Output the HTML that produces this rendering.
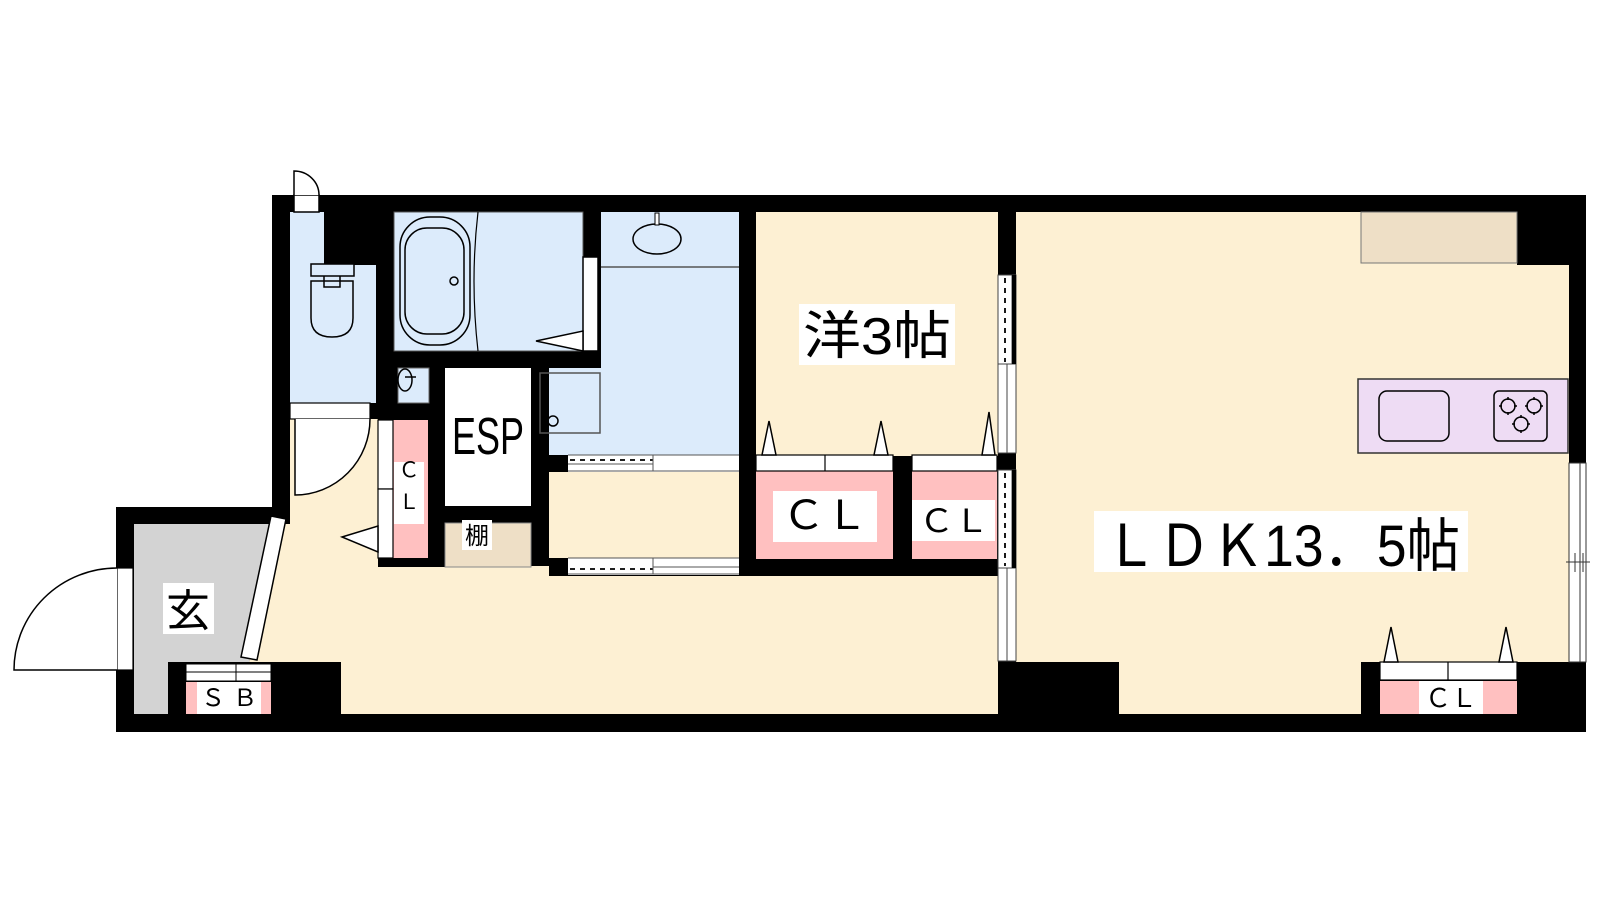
<!DOCTYPE html>
<html><head><meta charset="utf-8"><style>
html,body{margin:0;padding:0;background:#fff;}
svg{display:block;}
text{font-family:"Liberation Sans","Noto Sans CJK JP",sans-serif;fill:#000;}
</style></head><body>
<svg width="1600" height="900" viewBox="0 0 1600 900" xmlns="http://www.w3.org/2000/svg">
<rect width="1600" height="900" fill="#fff"/>
<polygon points="272,195 1586,195 1586,732 116,732 116,507 272,507" fill="#000"/>

<g fill="#dcebfb">
<rect x="290" y="212" width="34" height="54"/>
<rect x="290" y="265" width="86" height="138"/>
<rect x="398" y="368" width="31" height="35"/>
<rect x="394" y="212" width="189" height="139"/>
<rect x="601" y="212" width="138" height="243"/>
<rect x="549" y="368" width="190" height="87"/>
</g>
<g fill="#fdf0d3">
<rect x="290" y="419" width="88" height="243"/>
<rect x="290" y="576" width="708" height="86"/>
<rect x="341" y="576" width="657" height="138"/>
<rect x="376" y="567" width="70" height="10"/>
<rect x="445" y="566" width="104" height="11"/>
<polygon points="280,524 290,524 290,662 249,662"/>
<rect x="549" y="472" width="190" height="86"/>
<rect x="756" y="212" width="242" height="244"/>
<rect x="1016" y="212" width="501" height="450"/>
<rect x="1517" y="265" width="52" height="397"/>
<rect x="1119" y="662" width="242" height="52"/>
</g>
<polygon points="134,524 280,524 249,662 168,662 168,714 134,714" fill="#d3d3d3"/>
<rect x="445" y="368" width="86" height="138" fill="#fff"/>
<rect x="445" y="523" width="86" height="44" fill="#eedfc6" stroke="#888" stroke-width="1"/>
<rect x="1361" y="212" width="156" height="51" fill="#eedfc6" stroke="#777" stroke-width="1"/>

<rect x="294" y="195" width="25" height="17" fill="#fff" stroke="#000" stroke-width="1.5"/>
<path d="M294,195 V171 A25,24 0 0 1 319,195" fill="#fff" stroke="#000" stroke-width="1.5"/>
<rect x="311" y="264" width="43" height="12" fill="#dcebfb" stroke="#000" stroke-width="1.5"/>
<path d="M311,281 H353 V318 Q353,337 332,337 Q311,337 311,318 Z" fill="#dcebfb" stroke="#000" stroke-width="1.5"/>
<path d="M324,276 V287 H340 V276" fill="none" stroke="#000" stroke-width="1.5"/>
<rect x="394" y="212" width="189" height="139" fill="none" stroke="#555" stroke-width="1"/>
<rect x="400" y="217" width="70" height="128" rx="30" fill="none" stroke="#000" stroke-width="1.5"/>
<rect x="405" y="228" width="59" height="106" rx="22" fill="none" stroke="#000" stroke-width="1.5"/>
<circle cx="454" cy="281" r="4" fill="none" stroke="#000" stroke-width="1.5"/>
<path d="M478,212 Q470,281 478,351" fill="none" stroke="#000" stroke-width="1.2"/>
<rect x="583" y="257" width="15" height="94" fill="#fff" stroke="#000" stroke-width="1.5"/>
<polygon points="536,341 583,331 583,351" fill="#fff" stroke="#000" stroke-width="1.5"/>
<line x1="601" y1="267" x2="739" y2="267" stroke="#555" stroke-width="1.5"/>
<ellipse cx="657" cy="239" rx="24" ry="15" fill="none" stroke="#000" stroke-width="1.5"/>
<rect x="655" y="213" width="4" height="12" fill="#fff" stroke="#000" stroke-width="1"/>
<rect x="540" y="373" width="60" height="60" fill="none" stroke="#555" stroke-width="1.5"/>
<circle cx="553" cy="421" r="5" fill="none" stroke="#000" stroke-width="1.5"/>
<rect x="398" y="368" width="31" height="35" fill="none" stroke="#666" stroke-width="1"/>
<ellipse cx="405" cy="380" rx="7" ry="11" fill="none" stroke="#000" stroke-width="1.5"/>
<line x1="405" y1="377" x2="416" y2="377" stroke="#000" stroke-width="1.5"/>
<rect x="290" y="403" width="80" height="16" fill="#fff" stroke="#000" stroke-width="1.2"/>
<path d="M295,419 V495 A75,76 0 0 0 370,419" fill="#fff" stroke="#000" stroke-width="1.5"/>
<rect x="393" y="420" width="35" height="138" fill="#ffc0c0"/>
<rect x="378" y="420" width="15" height="69" fill="#fff" stroke="#000" stroke-width="1.2"/>
<rect x="378" y="489" width="15" height="69" fill="#fff" stroke="#000" stroke-width="1.2"/>
<polygon points="342,537 378,526 378,552" fill="#fff" stroke="#000" stroke-width="1.5"/>
<rect x="394" y="462" width="30" height="62" fill="#fff"/>
<text x="409" y="477" font-size="21" text-anchor="middle">Ｃ</text>
<text x="409" y="509" font-size="21" text-anchor="middle">Ｌ</text>
<text x="452" y="454" font-size="52" textLength="72" lengthAdjust="spacingAndGlyphs">ESP</text>
<rect x="462" y="520" width="30" height="30" fill="#fff"/>
<text x="477" y="544" font-size="24" text-anchor="middle">棚</text>
<g>
<rect x="568" y="455" width="171" height="17" fill="#fff"/>
<line x1="568" y1="455" x2="739" y2="455" stroke="#555"/>
<line x1="568" y1="471" x2="739" y2="471" stroke="#555"/>
<line x1="568" y1="464" x2="653" y2="464" stroke="#555"/>
<line x1="570" y1="460" x2="653" y2="460" stroke="#000" stroke-width="1.8" stroke-dasharray="5,5"/>
<line x1="653" y1="455" x2="653" y2="471" stroke="#555"/>
<rect x="568" y="558" width="171" height="17" fill="#fff"/>
<line x1="568" y1="558" x2="739" y2="558" stroke="#555"/>
<line x1="568" y1="574" x2="739" y2="574" stroke="#555"/>
<line x1="653" y1="567" x2="739" y2="567" stroke="#555"/>
<line x1="570" y1="569" x2="653" y2="569" stroke="#000" stroke-width="1.8" stroke-dasharray="5,5"/>
<line x1="653" y1="558" x2="653" y2="574" stroke="#555"/>
</g>
<rect x="117" y="568" width="16" height="102" fill="#fff" stroke="#000" stroke-width="1.2"/>
<path d="M117,568 A103,102 0 0 0 14,670 H117" fill="#fff" stroke="#000" stroke-width="1.5"/>
<polygon points="271,516 286,519 257,660 241,657" fill="#fff" stroke="#000" stroke-width="1.5"/>
<rect x="163" y="583" width="51" height="51" fill="#fff"/>
<text x="188" y="626" font-size="44" text-anchor="middle">玄</text>
<rect x="186" y="682" width="85" height="32" fill="#ffc0c0"/>
<rect x="186" y="664" width="85" height="17" fill="#fff" stroke="#000" stroke-width="1"/>
<line x1="186" y1="672" x2="271" y2="672" stroke="#000" stroke-width="1"/>
<line x1="236" y1="664" x2="236" y2="681" stroke="#000" stroke-width="1"/>
<rect x="197" y="682" width="64" height="32" fill="#fff"/>
<text x="229" y="706" font-size="24" text-anchor="middle" textLength="56" lengthAdjust="spacing">ＳＢ</text>

<rect x="799" y="304" width="156" height="61" fill="#fff"/>
<text x="877" y="354" font-size="52" text-anchor="middle" textLength="148" lengthAdjust="spacingAndGlyphs">洋3帖</text>
<rect x="756" y="471" width="137" height="88" fill="#ffc0c0"/>
<rect x="912" y="471" width="85" height="88" fill="#ffc0c0"/>
<rect x="756" y="455" width="137" height="16" fill="#fff" stroke="#000" stroke-width="1.2"/>
<line x1="825" y1="455" x2="825" y2="471" stroke="#000" stroke-width="1.2"/>
<rect x="912" y="455" width="85" height="16" fill="#fff" stroke="#000" stroke-width="1.2"/>
<polygon points="769,421 762,455 776,455" fill="#fff" stroke="#000" stroke-width="1.5"/>
<polygon points="881,421 874,455 888,455" fill="#fff" stroke="#000" stroke-width="1.5"/>
<polygon points="989,412 982,455 995,455" fill="#fff" stroke="#000" stroke-width="1.5"/>
<rect x="773" y="491" width="104" height="51" fill="#fff"/>
<text x="825" y="529" font-size="40" text-anchor="middle" textLength="86" lengthAdjust="spacingAndGlyphs">ＣＬ</text>
<rect x="912" y="500" width="83" height="41" fill="#fff"/>
<text x="954" y="532" font-size="32" text-anchor="middle" textLength="70" lengthAdjust="spacingAndGlyphs">ＣＬ</text>

<g stroke="#444" stroke-width="1">
<rect x="998" y="275" width="18" height="178" fill="#fff"/>
<rect x="998" y="470" width="18" height="191" fill="#fff"/>
<line x1="1012" y1="275" x2="1012" y2="364"/>
<line x1="1012" y1="470" x2="1012" y2="568"/>
<line x1="1007" y1="364" x2="1007" y2="453"/>
<line x1="1007" y1="568" x2="1007" y2="661"/>
<line x1="998" y1="364" x2="1016" y2="364"/>
<line x1="998" y1="568" x2="1016" y2="568"/>
</g>
<rect x="1012" y="275" width="4" height="89" fill="#000"/>
<rect x="1012" y="470" width="4" height="98" fill="#000"/>
<line x1="1005" y1="278" x2="1005" y2="362" stroke="#000" stroke-width="1.8" stroke-dasharray="5,5"/>
<line x1="1005" y1="473" x2="1005" y2="566" stroke="#000" stroke-width="1.8" stroke-dasharray="5,5"/>

<rect x="1569" y="463" width="17" height="199" fill="#fff" stroke="#333" stroke-width="1"/>
<line x1="1580" y1="463" x2="1580" y2="662" stroke="#333"/>
<line x1="1566" y1="562" x2="1590" y2="562" stroke="#333"/>
<line x1="1575" y1="553" x2="1575" y2="572" stroke="#333"/>
<line x1="1583" y1="553" x2="1583" y2="572" stroke="#333"/>

<rect x="1358" y="379" width="210" height="74" fill="#eedcf4" stroke="#333" stroke-width="1.5"/>
<rect x="1379" y="391" width="70" height="50" rx="8" fill="none" stroke="#000" stroke-width="1.5"/>
<rect x="1494" y="391" width="53" height="50" rx="5" fill="none" stroke="#000" stroke-width="1.5"/>
<g fill="none" stroke="#000" stroke-width="1.5">
<circle cx="1508" cy="406" r="7"/><circle cx="1534" cy="406" r="7"/><circle cx="1521" cy="424" r="7"/>
<path d="M1508,397v3M1508,412v3M1499,406h3M1514,406h3M1534,397v3M1534,412v3M1525,406h3M1540,406h3M1521,415v3M1521,430v3M1512,424h3M1527,424h3"/>
</g>

<rect x="1094" y="511" width="374" height="61" fill="#fff"/>
<text x="1104" y="566" font-size="58" textLength="356" lengthAdjust="spacingAndGlyphs">ＬＤＫ13．5帖</text>

<rect x="1380" y="681" width="137" height="33" fill="#ffc0c0"/>
<rect x="1380" y="662" width="137" height="18" fill="#fff" stroke="#000" stroke-width="1.2"/>
<line x1="1448" y1="662" x2="1448" y2="680" stroke="#000" stroke-width="1.2"/>
<polygon points="1391,627 1384,662 1398,662" fill="#fff" stroke="#000" stroke-width="1.5"/>
<polygon points="1506,627 1499,662 1513,662" fill="#fff" stroke="#000" stroke-width="1.5"/>
<rect x="1419" y="681" width="64" height="33" fill="#fff"/>
<text x="1451" y="707" font-size="26" text-anchor="middle" textLength="52" lengthAdjust="spacingAndGlyphs">ＣＬ</text>
</svg>
</body></html>
